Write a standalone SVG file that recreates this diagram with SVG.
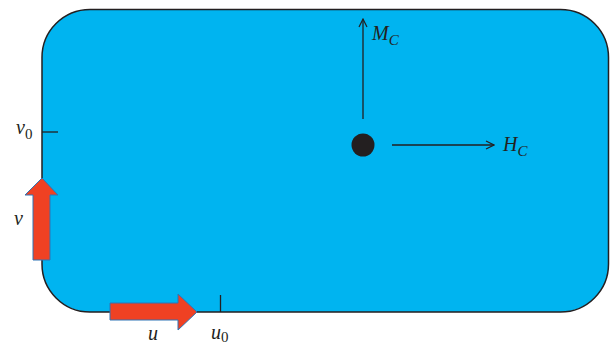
<svg xmlns="http://www.w3.org/2000/svg" width="613" height="345" viewBox="0 0 613 345">
<style>
.lbl{font-family:"Liberation Serif","DejaVu Serif",serif;font-style:italic;font-size:20px;fill:#231f20}
.sub{font-size:15px}
.up{font-style:normal}
.red{fill:#EF4123;stroke:#2E75B6;stroke-width:1}
.ln{stroke:#231f20;stroke-width:1.3;fill:none}
</style>
<defs>
<marker id="open" viewBox="0 0 10 10" refX="9" refY="5" markerWidth="10" markerHeight="10" markerUnits="userSpaceOnUse" orient="auto">
<path d="M1,1 L9,5 L1,9" fill="none" stroke="#231f20" stroke-width="1.2"/>
</marker>
</defs>
<g id="body">
<rect x="42" y="9.5" width="566.5" height="302.5" rx="48" ry="48" fill="#00B4F0" stroke="#231f20" stroke-width="1.5"/>
</g>
<g id="point">
<circle cx="363" cy="145" r="11.5" fill="#231f20"/>
</g>
<g id="connectors">
<line class="ln" x1="363" y1="119" x2="363" y2="19" marker-end="url(#open)"/>
<line class="ln" x1="392" y1="145" x2="494" y2="145" marker-end="url(#open)"/>
<line class="ln" x1="42" y1="132" x2="58" y2="132"/>
<line class="ln" x1="220.5" y1="295" x2="220.5" y2="312"/>
</g>
<g id="arrow-v">
<polygon class="red" points="33,260 50,260 50,195 58,195 42,178 25,195 33,195"/>
</g>
<g id="arrow-u">
<polygon class="red" points="110,303 178,303 178,294 197,312 178,330 178,320 110,320"/>
</g>
<g id="labels">
<text class="lbl" x="372" y="40">M<tspan class="sub" dy="5">C</tspan></text>
<text class="lbl" x="503" y="151">H<tspan class="sub" dy="5">C</tspan></text>
<text class="lbl" x="16" y="134">v<tspan class="sub up" dy="5">0</tspan></text>
<text class="lbl" x="14" y="225">v</text>
<text class="lbl" x="148" y="340">u</text>
<text class="lbl" x="211" y="339">u<tspan class="sub up" dy="3">0</tspan></text>
</g>
</svg>
